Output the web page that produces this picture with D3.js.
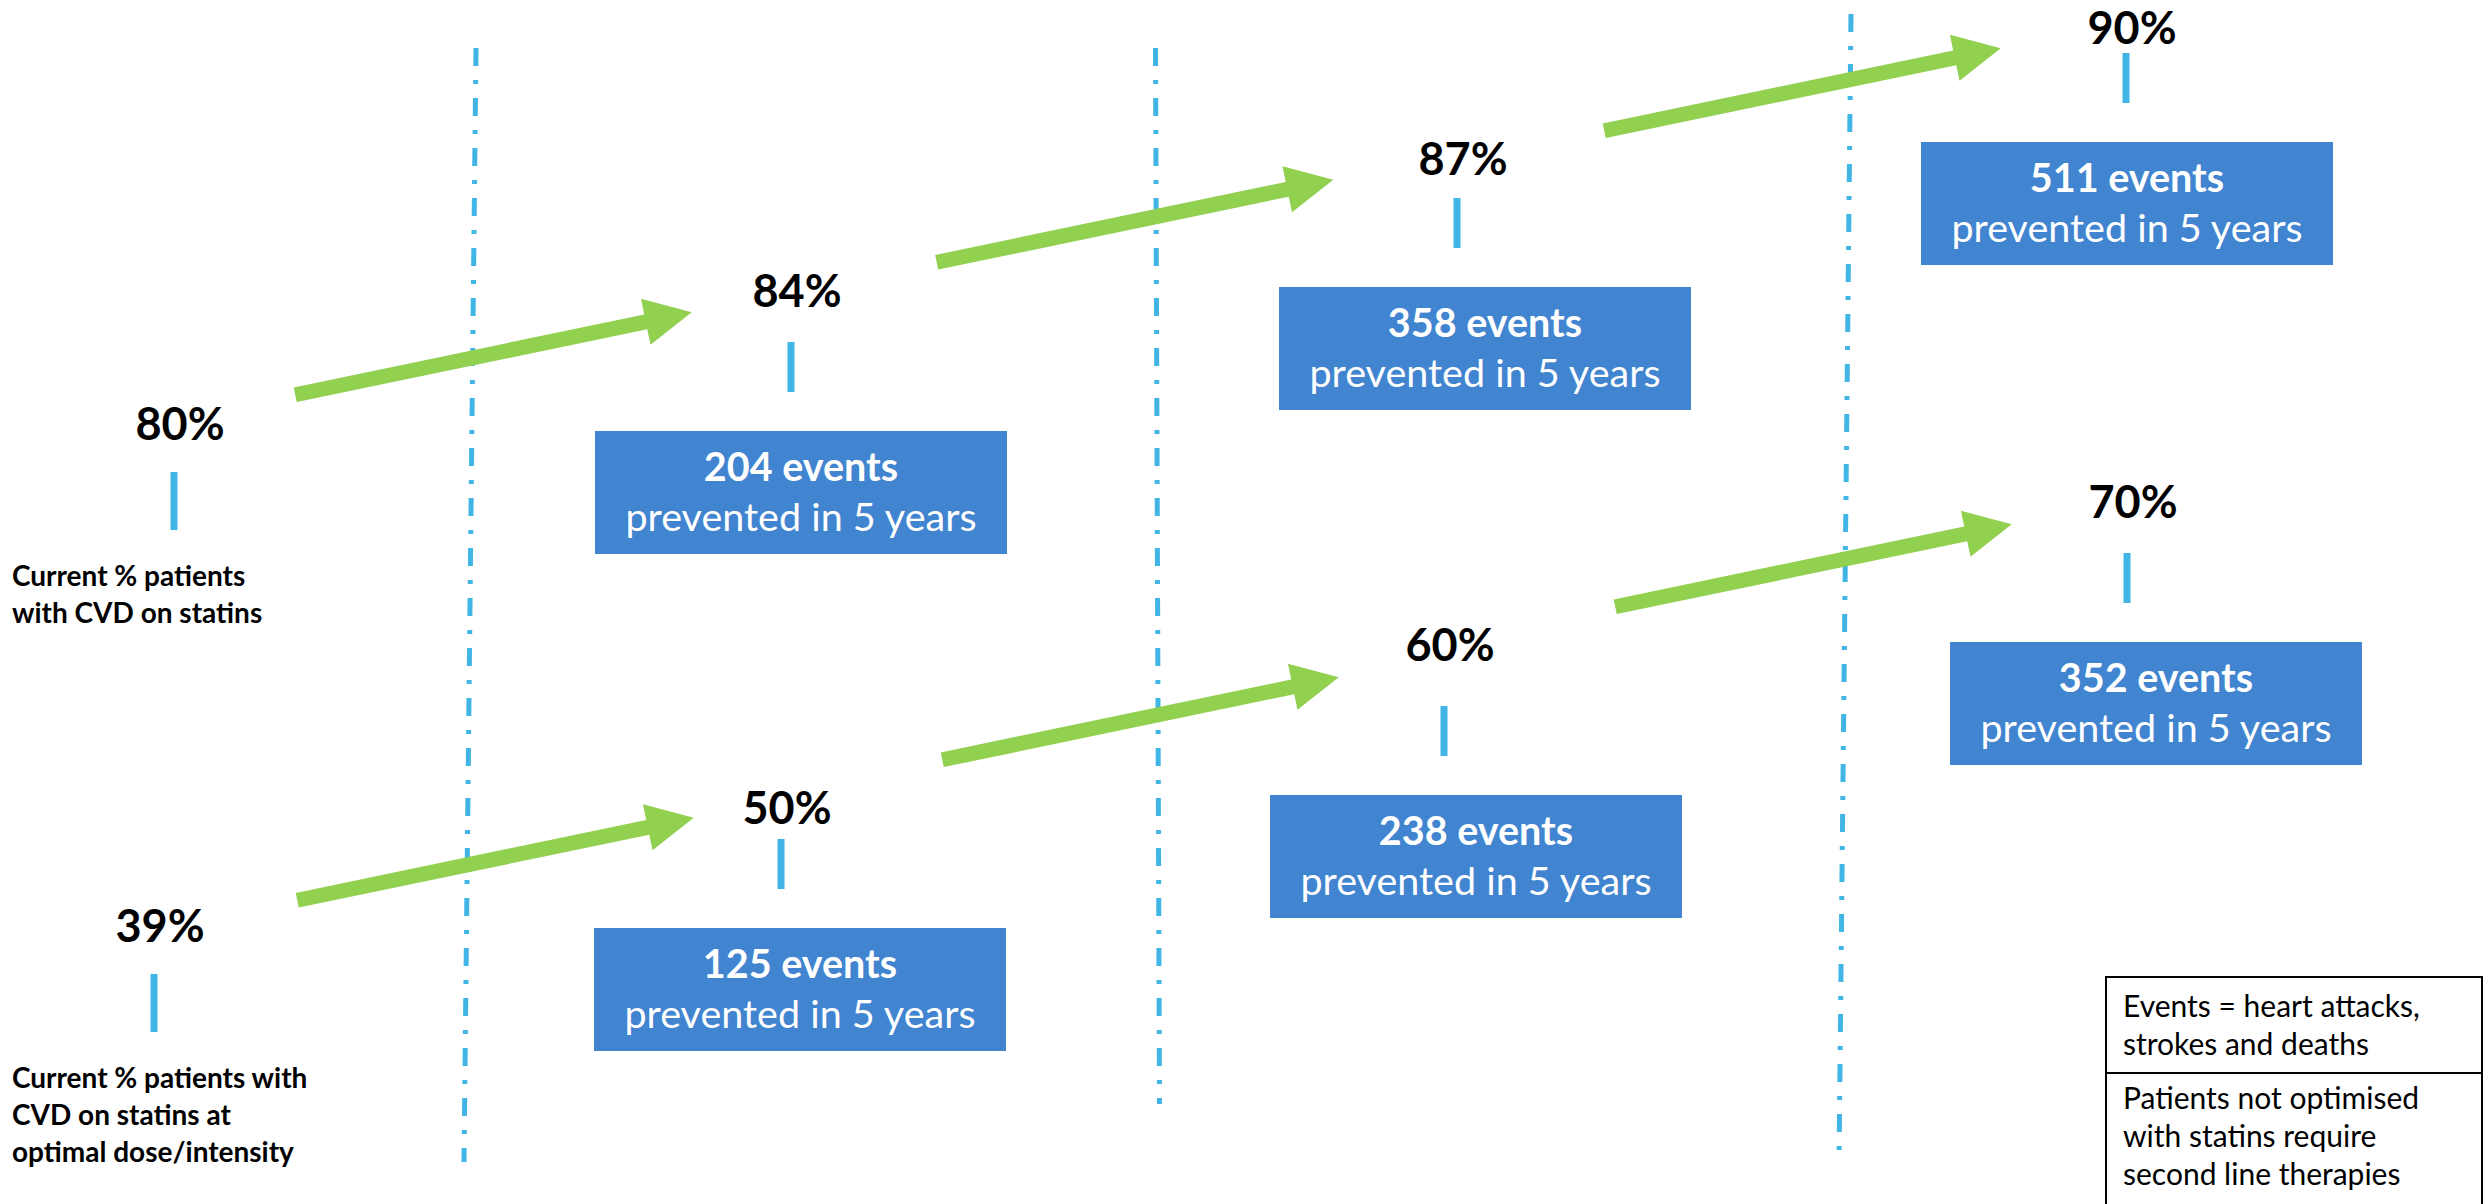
<!DOCTYPE html>
<html>
<head>
<meta charset="utf-8">
<script src="https://cdn.jsdelivr.net/npm/d3@7"></script>
<style>
  body { margin: 0; background: #fff; }
  svg { display: block; }
  text { font-family: Lato, 'Open Sans', sans-serif; }
</style>
</head>
<body>
<svg width="2484" height="1204"></svg>
<script>
// data
const stages = [0, 1, 2, 3];
const topPct = [80, 84, 87, 90];
const topEvents = [null, 204, 358, 511];
const bottomPct = [39, 50, 60, 70];
const bottomEvents = [null, 125, 238, 352];
const topCaption = ["Current % patients", "with CVD on statins"];
const bottomCaption = ["Current % patients with", "CVD on statins at", "optimal dose/intensity"];
const eventsNote = ["Events = heart attacks,", "strokes and deaths"];
const therapyNote = ["Patients not optimised", "with statins require", "second line therapies"];
const subtitle = "prevented in 5 years";

const svg = d3.select('svg');
const width = +svg.attr('width');
const height = +svg.attr('height');

const blue = '#4184d0';
const green = '#92d050';
const sky = '#41b6e6';

// layout scales (stage -> position), one set per row
const rowX = [
    d3.scaleLinear().domain([0, 1, 2, 3]).range([180, 797, 1463, 2132]),
    d3.scaleLinear().domain([0, 1, 2, 3]).range([160, 787, 1450, 2133])
];
const rowY = [
    d3.scaleLinear().domain([0, 1, 2, 3]).range([440, 307, 175, 44]),
    d3.scaleLinear().domain([0, 1, 2, 3]).range([942, 824, 661, 518])
];
const rowBoxX = [
    d3.scaleLinear().domain([1, 2, 3]).range([801, 1485, 2127]),
    d3.scaleLinear().domain([1, 2, 3]).range([800, 1476, 2156])
];
const rowBoxY = [
    d3.scaleLinear().domain([1, 2, 3]).range([431, 287, 142]),
    d3.scaleLinear().domain([1, 2, 3]).range([928, 795, 642])
];
const rowArrowDx = [5, 22];
const rowArrowDy = [-20, -24];
const dividerX = d3.scaleLinear().domain([0.5, 2.5]).range([470, 1845]);
const dividerTilt = d => d === 1.5 ? -2 : 6;

const rows = [0, 1].map(r => ({
    pct: r ? bottomPct : topPct,
    events: r ? bottomEvents : topEvents,
    caption: r ? bottomCaption : topCaption,
    x: rowX[r], y: rowY[r], boxX: rowBoxX[r], boxY: rowBoxY[r],
    arrowDx: rowArrowDx[r], arrowDy: rowArrowDy[r]
}));

// dash-dot dividers between stages
svg.selectAll('line.divider')
    .data([0.5, 1.5, 2.5])
    .enter()
    .append('line')
    .attr('class', 'divider')
    .attr('x1', d => dividerX(d) + dividerTilt(d))
    .attr('x2', d => dividerX(d) - dividerTilt(d))
    .attr('y1', d => d === 2.5 ? 14 : 48)
    .attr('y2', d => d === 1.5 ? 1104 : 1162)
    .attr('stroke', sky)
    .attr('stroke-width', 5)
    .attr('stroke-dasharray', '18 14 4 14');

const boxW = 412, boxH = 123;
const tickW = 7, tickH = 50;
// arrow shape: all arrows share length and slope
const arrowLen = 405, arrowAngle = Math.atan(-0.208);
const shaft = 7.5, headLen = 47, headHalf = 23.5;

rows.forEach(row => {
    const g = svg.append('g');
    const x = row.x;
    const nodes = stages.map(s => ({ s, pct: row.pct[s], ev: row.events[s] }));
    const tickTop = d => d.ev === null ? row.y(d.s) + 32 : row.boxY(d.s) - 39 - tickH;

    // arrows between consecutive stages
    const arrowLine = d3.line();
    const ux = Math.cos(arrowAngle), uy = Math.sin(arrowAngle);
    const nx = -uy, ny = ux;
    d3.pairs(nodes).forEach(([a, b]) => {
        const cx = (x(a.s) + x(b.s)) / 2 + row.arrowDx;
        const cy = (row.y(a.s) + row.y(b.s)) / 2 + row.arrowDy;
        const start = [cx - ux * arrowLen / 2, cy - uy * arrowLen / 2];
        const tip = [cx + ux * arrowLen / 2, cy + uy * arrowLen / 2];
        const neck = [tip[0] - ux * headLen, tip[1] - uy * headLen];
        const pts = [
            [start[0] + nx * shaft, start[1] + ny * shaft],
            [neck[0] + nx * shaft, neck[1] + ny * shaft],
            [neck[0] + nx * headHalf, neck[1] + ny * headHalf],
            tip,
            [neck[0] - nx * headHalf, neck[1] - ny * headHalf],
            [neck[0] - nx * shaft, neck[1] - ny * shaft],
            [start[0] - nx * shaft, start[1] - ny * shaft]
        ];
        g.append('path')
            .attr('d', arrowLine(pts) + 'Z')
            .attr('fill', green);
    });

    // percentage labels
    g.selectAll('text.pct')
        .data(nodes)
        .enter()
        .append('text')
        .attr('class', 'pct')
        .attr('x', d => x(d.s))
        .attr('y', d => row.y(d.s))
        .attr('text-anchor', 'middle')
        .style('font-size', '45px')
        .style('font-weight', 'bold')
        .text(d => d.pct + '%');

    // small ticks under labels
    g.selectAll('rect.tick')
        .data(nodes)
        .enter()
        .append('rect')
        .attr('class', 'tick')
        .attr('x', d => x(d.s) - 6 - tickW / 2)
        .attr('y', tickTop)
        .attr('width', tickW)
        .attr('height', d => d.ev === null ? 58 : tickH)
        .attr('fill', sky);

    // event boxes
    const boxes = g.selectAll('g.box')
        .data(nodes.filter(d => d.ev !== null))
        .enter()
        .append('g')
        .attr('class', 'box')
        .attr('transform', d => `translate(${row.boxX(d.s) - boxW / 2},${row.boxY(d.s)})`);

    boxes.append('rect')
        .attr('width', boxW)
        .attr('height', boxH)
        .attr('fill', blue);

    boxes.append('text')
        .attr('x', boxW / 2)
        .attr('y', 50)
        .attr('text-anchor', 'middle')
        .attr('fill', '#fff')
        .style('font-size', '39.5px')
        .style('font-weight', 'bold')
        .text(d => d.ev + ' events');

    boxes.append('text')
        .attr('x', boxW / 2)
        .attr('y', 100)
        .attr('text-anchor', 'middle')
        .attr('fill', '#fff')
        .style('font-size', '39.5px')
        .text(subtitle);

    // caption under the first stage
    g.append('text')
        .attr('y', row.y(0) + 146)
        .style('font-size', '28px')
        .style('font-weight', 'bold')
        .selectAll('tspan')
        .data(row.caption)
        .enter()
        .append('tspan')
        .attr('x', 12)
        .attr('dy', (d, i) => i === 0 ? 0 : 37)
        .text(d => d);
});

// notes box, bottom right
const notes = svg.append('g').attr('transform', 'translate(2106,977)');
const noteW = width - 2 - 2106;
notes.append('rect')
    .attr('width', noteW).attr('height', 96)
    .attr('fill', 'none').attr('stroke', '#000').attr('stroke-width', 2);
notes.append('rect')
    .attr('y', 96)
    .attr('width', noteW).attr('height', height - 977 - 96 + 10)
    .attr('fill', 'none').attr('stroke', '#000').attr('stroke-width', 2);

[[eventsNote, 40], [therapyNote, 132]].forEach(([lines, y0]) => {
    notes.append('text')
        .attr('y', y0)
        .style('font-size', '30px')
        .selectAll('tspan')
        .data(lines)
        .enter()
        .append('tspan')
        .attr('x', 17)
        .attr('dy', (d, i) => i === 0 ? 0 : 38)
        .text(d => d);
});
</script>
</body>
</html>
